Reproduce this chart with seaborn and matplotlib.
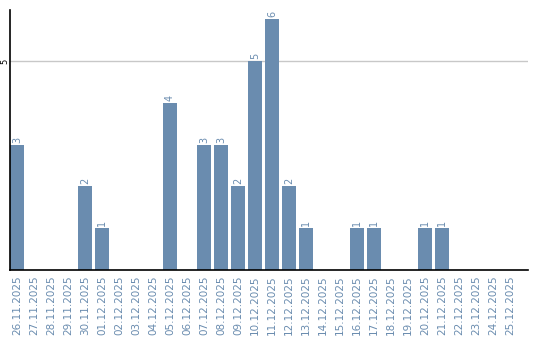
import matplotlib
matplotlib.use("Agg")
import matplotlib.pyplot as plt
import seaborn as sns
import pandas as pd

dates = ["26.11.2025", "27.11.2025", "28.11.2025", "29.11.2025", "30.11.2025",
         "01.12.2025", "02.12.2025", "03.12.2025", "04.12.2025", "05.12.2025",
         "06.12.2025", "07.12.2025", "08.12.2025", "09.12.2025", "10.12.2025",
         "11.12.2025", "12.12.2025", "13.12.2025", "14.12.2025", "15.12.2025",
         "16.12.2025", "17.12.2025", "18.12.2025", "19.12.2025", "20.12.2025",
         "21.12.2025", "22.12.2025", "23.12.2025", "24.12.2025", "25.12.2025"]
counts = [3, 0, 0, 0, 2, 1, 0, 0, 0, 4, 0, 3, 3, 2, 5, 6, 2, 1, 0, 0,
          1, 1, 0, 0, 1, 1, 0, 0, 0, 0]

bar_color = "#6a8caf"
df = pd.DataFrame({"date": dates, "count": counts})

sns.set_style("white")
fig = plt.figure(figsize=(5.4, 3.4), dpi=100)
ax = fig.add_axes([10/540, 1 - 270/340, 518/540, 260/340])

sns.barplot(data=df, x="date", y="count", color=bar_color, saturation=1,
            width=0.82, ax=ax, order=dates)
for p in ax.patches:
    p.set_edgecolor("none")

ax.set_xlim(-0.41, 30.06)
ax.set_ylim(0, 6.22)
ax.set_yticks([5])
ax.set_yticklabels(["5"], rotation=90, va="center", fontsize=6, color="black")
ax.yaxis.grid(True, color="#c8c8c8", linewidth=1)
ax.set_axisbelow(True)
ax.tick_params(axis="y", length=0, pad=0.5)
ax.tick_params(axis="x", length=0, pad=4)
ax.set_xticks(range(len(dates)))
ax.set_xticklabels(dates, rotation=90, fontsize=7.5, color=bar_color)
ax.set_xlabel("")
ax.set_ylabel("")
for s in ["top", "right"]:
    ax.spines[s].set_visible(False)
for s in ["left", "bottom"]:
    ax.spines[s].set_color("black")
    ax.spines[s].set_linewidth(1.2)

for i, v in enumerate(counts):
    if v > 0:
        ax.text(i, v + 0.05, str(v), rotation=90, ha="center", va="bottom",
                fontsize=7, color=bar_color)

fig.savefig("out.png", dpi=100)
